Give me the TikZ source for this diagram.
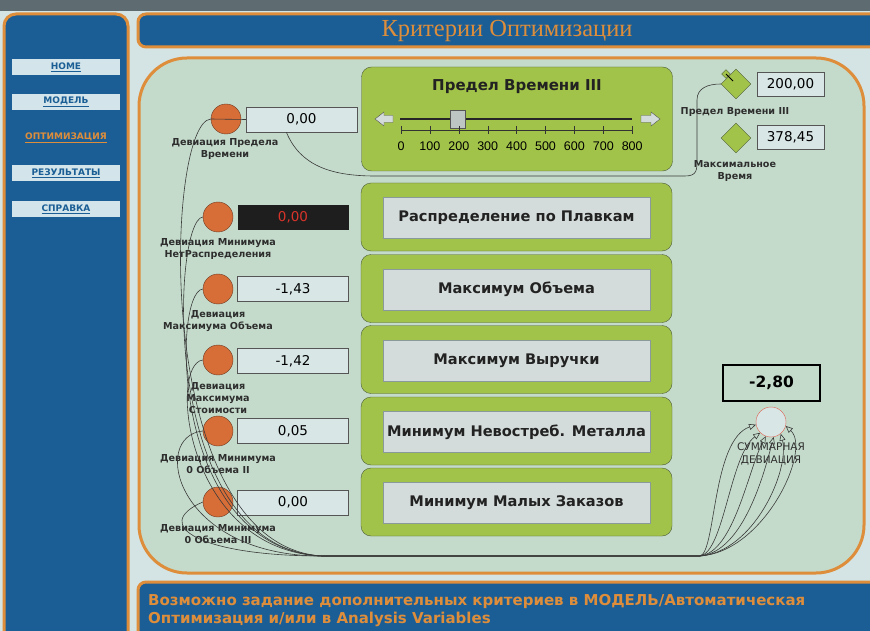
\documentclass[tikz,border=0pt]{standalone}
\usepackage{fontspec}
\setmainfont{DejaVu Sans}
\newfontfamily\titlefont{Liberation Serif}
\newfontfamily\numfont{Liberation Sans}
\usepackage{tikz}
\usetikzlibrary{shapes.geometric, arrows.meta}

\definecolor{pagebg}{HTML}{D4E3E3}
\definecolor{topgrey}{HTML}{5E6B71}
\definecolor{navblue}{HTML}{1B5E95}
\definecolor{orangeline}{HTML}{DE8E3B}
\definecolor{maingreen}{HTML}{C4DBCB}
\definecolor{panelgreen}{HTML}{A2C349}
\definecolor{panelline}{HTML}{4F5D3A}
\definecolor{btnfill}{HTML}{D3DCDA}
\definecolor{btnline}{HTML}{8A9A9A}
\definecolor{btntext}{HTML}{222222}
\definecolor{boxfill}{HTML}{D8E6E6}
\definecolor{boxline}{HTML}{555555}
\definecolor{ballfill}{HTML}{D76E38}
\definecolor{ballline}{HTML}{6E3A22}
\definecolor{navfill}{HTML}{D3E5EA}
\definecolor{labeltext}{HTML}{2E2E2E}
\definecolor{wireline}{HTML}{3A3A3A}
\definecolor{sumline}{HTML}{E06050}
\definecolor{alarmred}{HTML}{D8342A}
\definecolor{blackbox}{HTML}{1E1E1E}

\begin{document}
\begin{tikzpicture}[x=1pt, y=-1pt,
  navbtn/.style={fill=navfill, minimum width=108pt, minimum height=16pt, inner sep=0pt, font=\bfseries\fontsize{9}{10}\selectfont, text=navblue},
  devball/.style={circle, draw=ballline, fill=ballfill, minimum size=30pt, inner sep=0pt},
  valbox/.style={draw=boxline, fill=boxfill, minimum width=111pt, minimum height=25pt, inner sep=0pt, font=\fontsize{13.5}{15}\selectfont},
  devlabel/.style={align=center, inner sep=0pt, font=\bfseries\fontsize{9.6}{12}\selectfont, text=labeltext},
  critpanel/.style={draw=panelline, fill=panelgreen, rounded corners=10pt, minimum width=311pt, minimum height=68pt, inner sep=0pt},
  critbtn/.style={draw=btnline, fill=btnfill, minimum width=267pt, minimum height=41pt, inner sep=0pt, font=\bfseries\fontsize{14.6}{16}\selectfont, text=btntext},
  gauge/.style={diamond, draw=panelline, fill=panelgreen, minimum size=30pt, inner sep=0pt},
  smallbox/.style={draw=boxline, fill=boxfill, minimum width=67pt, minimum height=24pt, inner sep=0pt, font=\fontsize{13.5}{15}\selectfont},
  wire/.style={draw=wireline, line width=0.6pt},
  sumwire/.style={wire, -{Triangle[open, length=7pt, width=6pt]}}]

  \useasboundingbox (0,0) rectangle (870,631);
  \clip (0,0) rectangle (870,631);
  \fill[pagebg] (0,0) rectangle (870,631);
  \fill[topgrey] (0,0) rectangle (870,11);

  \draw[orangeline, line width=3pt, fill=navblue, rounded corners=12pt] (4,14) rectangle (128,660);
  \draw[orangeline, line width=3pt, fill=navblue, rounded corners=8pt] (138,14) rectangle (890,47);
  \node[text=orangeline, font=\titlefont\fontsize{24.5}{26}\selectfont] (title) at (507,31) {Критерии Оптимизации};
  \draw[orangeline, line width=3pt, fill=maingreen, rounded corners=48pt] (139,58) rectangle (864,573);
  \draw[orangeline, line width=3pt, fill=navblue, rounded corners=8pt] (138,582) rectangle (890,660);
  \node[anchor=west, align=left, inner sep=0pt, text=orangeline, font=\bfseries\fontsize{15}{18}\selectfont] (note) at (148,611)
    {Возможно задание дополнительных критериев в МОДЕЛЬ/Автоматическая\\Оптимизация и/или в Analysis Variables};

  \node[navbtn] (home) at (66,67) {\underline{HOME}};
  \node[navbtn] (model) at (66,102) {\underline{МОДЕЛЬ}};
  \node[navbtn, fill=none, text=orangeline] (optim) at (66,138) {\underline{ОПТИМИЗАЦИЯ}};
  \node[navbtn] (results) at (66,173) {\underline{РЕЗУЛЬТАТЫ}};
  \node[navbtn] (help) at (66,209) {\underline{СПРАВКА}};

  \node[critpanel, minimum height=104pt] (slider) at (517,119) {};
  \node[font=\bfseries\fontsize{15}{17}\selectfont, text=btntext] (slidertitle) at (517,87) {Предел Времени III};
  \draw[line width=2pt, black!85] (400,119) -- (632,119);
  \draw[boxline, fill=btnfill] (375,119) -- (384,112) -- (384,115.5) -- (393,115.5) -- (393,122.5) -- (384,122.5) -- (384,126) -- cycle;
  \draw[boxline, fill=btnfill] (660,119) -- (651,112) -- (651,115.5) -- (641,115.5) -- (641,122.5) -- (651,122.5) -- (651,126) -- cycle;
  \node[draw=boxline, fill=btnfill!90!black, minimum width=15pt, minimum height=18pt, inner sep=0pt] (thumb) at (458,119) {};
  \draw[black!80] (401,130) -- (632,130);
  \foreach \i [evaluate=\i as \tx using 401+28.9*\i] in {0,...,8} {
    \draw[black!80] (\tx,126) -- (\tx,134);
    \node[font=\numfont\fontsize{12.5}{13}\selectfont] at (\tx,146) {\the\numexpr100*\i\relax};
  }

  \node[critpanel] (crit1) at (516.5,217) {};
  \node[critpanel] (crit2) at (516.5,288.5) {};
  \node[critpanel] (crit3) at (516.5,359.5) {};
  \node[critpanel] (crit4) at (516.5,431) {};
  \node[critpanel] (crit5) at (516.5,502) {};
  \node[critbtn] (btn1) at (516.5,218) {Распределение по Плавкам};
  \node[critbtn] (btn2) at (516.5,289.5) {Максимум Объема};
  \node[critbtn] (btn3) at (516.5,360.5) {Максимум Выручки};
  \node[critbtn] (btn4) at (516.5,432) {Минимум Невостреб. Металла};
  \node[critbtn] (btn5) at (516.5,503) {Минимум Малых Заказов};

  \node[devball] (dev1) at (226,119) {};
  \node[devball] (dev2) at (218,217) {};
  \node[devball] (dev3) at (218,289) {};
  \node[devball] (dev4) at (218,360) {};
  \node[devball] (dev5) at (218,431) {};
  \node[devball] (dev6) at (218,502) {};

  \node[valbox] (box1) at (301.5,119.5) {0,00};
  \node[valbox, draw=none, fill=blackbox, text=alarmred] (box2) at (293,217.5) {0,00};
  \node[valbox] (box3) at (293,289) {-1,43};
  \node[valbox] (box4) at (293,361) {-1,42};
  \node[valbox] (box5) at (293,431) {0,05};
  \node[valbox] (box6) at (293,502.5) {0,00};

  \node[devlabel] (lab1) at (225,149) {Девиация Предела\\Времени};
  \node[devlabel] (lab2) at (218,249) {Девиация Минимума\\НетРаспределения};
  \node[devlabel] (lab3) at (218,321) {Девиация\\Максимума Объема};
  \node[devlabel] (lab4) at (218,398) {Девиация\\Максимума\\Стоимости};
  \node[devlabel] (lab5) at (218,464) {Девиация Минимума\\0 Объема II};
  \node[devlabel] (lab6) at (218,534) {Девиация Минимума\\0 Объема III};

  \node[gauge] (dia1) at (736,84) {};
  \node[gauge] (dia2) at (736,138) {};
  \node[gauge, minimum size=9pt] (handle) at (726,74) {};
  \draw[black, line width=1pt] (handle.center) -- (733,81);
  \node[smallbox] (limit) at (790.5,84) {200,00};
  \node[smallbox] (maxtime) at (790.5,137.5) {378,45};
  \node[devlabel] (limitlab) at (735,112) {Предел Времени III};
  \node[devlabel] (maxlab) at (735,171) {Максимальное\\Время};

  \node[draw=black, line width=2.5pt, minimum width=97pt, minimum height=36pt, inner sep=0pt, font=\bfseries\fontsize{15.5}{17}\selectfont] (total) at (771.5,383) {-2,80};
  \node[circle, draw=sumline, fill=boxfill, minimum size=30pt, inner sep=0pt] (sum) at (771,422) {};
  \node[align=center, inner sep=0pt, font=\fontsize{10.5}{13}\selectfont, text=labeltext] (sumlab) at (771,454) {СУММАРНАЯ\\ДЕВИАЦИЯ};

  \coordinate (bund) at (322,556);
  \coordinate (fan) at (700,556);

  \draw[wire] (dev1.west) -- (box1.west);
  \draw[wire] (box1.220) .. controls (300,165) and (330,176) .. (375,176) -- (685,176) .. controls (697,176) and (697,170) .. (697,160) -- (697,100) .. controls (697,88) and (708,84) .. (dia1.west);

  \draw[sumwire] (dev1.west) .. controls (165,122) and (150,545) .. (bund) -- (fan) .. controls (716,552) and (712,440) .. (sum.190);
  \draw[sumwire] (dev2.west) .. controls (172,220) and (158,548) .. (bund) -- (fan) .. controls (724,552) and (730,455) .. (sum.225);
  \draw[sumwire] (dev3.west) .. controls (172,292) and (170,548) .. (bund) -- (fan) .. controls (734,552) and (748,470) .. (sum.250);
  \draw[sumwire] (dev4.west) .. controls (168,364) and (185,550) .. (bund) -- (fan) .. controls (744,552) and (765,470) .. (sum.280);
  \draw[sumwire] (dev5.west) .. controls (150,436) and (175,556) .. (bund) -- (fan) .. controls (754,552) and (790,470) .. (sum.310);
  \draw[sumwire] (dev6.west) .. controls (150,525) and (200,556) .. (bund) -- (fan) .. controls (764,552) and (812,450) .. (sum.345);
\end{tikzpicture}
\end{document}
